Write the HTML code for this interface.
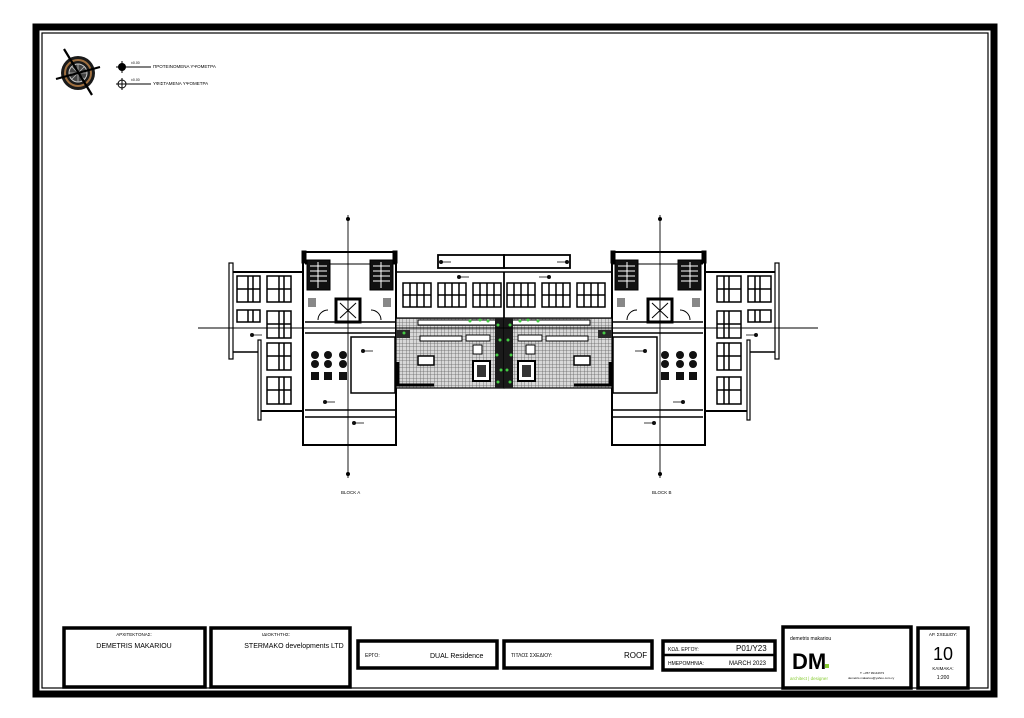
<!DOCTYPE html>
<html><head><meta charset="utf-8"><style>
html,body{margin:0;padding:0;background:#fff;}
body{width:1024px;height:718px;position:relative;overflow:hidden;font-family:"Liberation Sans","DejaVu Sans",sans-serif;}
svg{position:absolute;left:0;top:0;}
</style></head><body>
<svg width="1024" height="718" viewBox="0 0 1024 718" xmlns="http://www.w3.org/2000/svg" font-family="Liberation Sans, DejaVu Sans, sans-serif">
<defs>
<pattern id="grid" width="3.5" height="3.5" patternUnits="userSpaceOnUse">
<rect width="3.5" height="3.5" fill="#d8d8d8"/><path d="M0 0H3.5M0 0V3.5" stroke="#666" stroke-width="0.8"/>
</pattern>
</defs>
<!-- frame -->
<rect x="36" y="27" width="958" height="667" fill="none" stroke="#000" stroke-width="7"/>
<rect x="42" y="33" width="946" height="655" fill="none" stroke="#000" stroke-width="1.2"/>

<!-- compass -->
<g transform="translate(78,73)">
<circle r="17" fill="#1a1a1a"/><circle r="13" fill="none" stroke="#a07040" stroke-width="2"/>
<circle r="9" fill="#444" stroke="#ccc" stroke-width="1"/>
<path d="M0 -9V9M-9 0H9M-6 -6L6 6M6 -6L-6 6" stroke="#bbb" stroke-width="0.8"/>
<path d="M-14 -24L14 22M-22 6L22 -6" stroke="#000" stroke-width="2.2"/>
</g>
<g font-size="4.5" fill="#000">
<circle cx="122" cy="67" r="4" fill="#000"/><path d="M116 67H128M122 61V73" stroke="#000"/>
<line x1="126" y1="67" x2="151" y2="67" stroke="#000"/>
<text x="131" y="64" font-size="3.5">±0.00</text>
<text x="153" y="68">ΠΡΟΤΕΙΝΟΜΕΝΑ ΥΨΟΜΕΤΡΑ</text>
<circle cx="122" cy="84" r="4" fill="none" stroke="#000"/><path d="M116 84H128M122 78V90" stroke="#000"/>
<line x1="126" y1="84" x2="151" y2="84" stroke="#000"/>
<text x="131" y="81" font-size="3.5">±0.00</text>
<text x="153" y="85">ΥΦΙΣΤΑΜΕΝΑ ΥΨΟΜΕΤΡΑ</text>
</g>

<!-- plan: left half, mirrored -->
<g id="half" stroke="#000" fill="none">
<rect x="229" y="263" width="4" height="96" fill="#fff" stroke-width="1.2"/>
<line x1="233" y1="272" x2="303" y2="272" stroke-width="2"/>
<line x1="233" y1="352" x2="258" y2="352" stroke-width="1.5"/>
<rect x="258" y="340" width="3" height="80" stroke-width="1.2"/>
<line x1="261" y1="411" x2="303" y2="411" stroke-width="2"/>
<g stroke-width="1.5">
<rect x="237" y="276" width="23" height="26"/><path d="M248 276V302M253 276V302M237 289H260"/>
<rect x="237" y="310" width="23" height="12"/><path d="M248 310V322M253 310V322"/>
<rect x="267" y="276" width="24" height="26"/><path d="M279 276V302M284 276V302M267 289H291"/>
<rect x="267" y="311" width="24" height="27"/><path d="M279 311V338M284 311V338M267 324H291"/>
<rect x="267" y="343" width="24" height="27"/><path d="M279 343V370M284 343V370M267 356H291"/>
<rect x="267" y="377" width="24" height="27"/><path d="M279 377V404M284 377V404M267 390H291"/>
</g>
<rect x="303" y="252" width="93" height="193" stroke-width="2"/>
<rect x="302" y="251" width="4" height="12" fill="#000"/>
<rect x="393" y="251" width="4" height="12" fill="#000"/>
<line x1="305" y1="264" x2="395" y2="264"/>
<line x1="305" y1="322" x2="395" y2="322" stroke-width="1.5"/>
<line x1="305" y1="333" x2="395" y2="333" stroke-width="1.5"/>
<rect x="307" y="260" width="23" height="30" fill="#111"/>
<path d="M310 266H327M310 271H327M310 276H327M310 281H327M318 262V288" stroke="#fff" stroke-width="1"/>
<rect x="370" y="260" width="23" height="30" fill="#111"/>
<path d="M373 266H390M373 271H390M373 276H390M373 281H390M381 262V288" stroke="#fff" stroke-width="1"/>
<rect x="308" y="298" width="8" height="9" fill="#888" stroke="none"/>
<rect x="383" y="298" width="8" height="9" fill="#888" stroke="none"/>
<path d="M318 320A10 10 0 0 1 328 310M381 320A10 10 0 0 0 371 310"/>
<rect x="336" y="299" width="24" height="23" stroke-width="3"/>
<path d="M340 303L356 318M356 303L340 318"/>
<rect x="351" y="337" width="44" height="56" stroke-width="1.5"/>
<line x1="305" y1="410" x2="395" y2="410" stroke-width="1.5"/>
<line x1="305" y1="417" x2="395" y2="417" stroke-width="1.5"/>
<g fill="#111" stroke="none">
<circle cx="315" cy="355" r="4"/><circle cx="328" cy="355" r="4"/><circle cx="343" cy="355" r="4"/>
<circle cx="315" cy="364" r="4"/><circle cx="328" cy="364" r="4"/><circle cx="343" cy="364" r="4"/>
<rect x="311" y="372" width="8" height="8"/><rect x="324" y="372" width="8" height="8"/><rect x="339" y="372" width="8" height="8"/>
<circle cx="325" cy="402" r="2"/><circle cx="354" cy="423" r="2"/><circle cx="363" cy="351" r="2"/>
<circle cx="252" cy="335" r="2"/><circle cx="441" cy="262" r="2"/><circle cx="459" cy="277" r="2"/><circle cx="449" cy="355" r="2"/>
</g>
<path d="M325 402H335M354 423H364M363 351H373M252 335H262M441 262H451M459 277H469M449 355H459" stroke-width="0.7"/>
<rect x="438" y="255" width="66" height="13" stroke-width="1.8"/>
<line x1="396" y1="272" x2="504" y2="272" stroke-width="1.5"/>
<line x1="504" y1="272" x2="504" y2="318" stroke-width="1.5"/>
<g stroke-width="1.5">
<rect x="403" y="283" width="28" height="24"/><path d="M410 283V307M417 283V307M424 283V307M403 295H431"/>
<rect x="438" y="283" width="28" height="24"/><path d="M445 283V307M452 283V307M459 283V307M438 295H466"/>
<rect x="473" y="283" width="28" height="24"/><path d="M480 283V307M487 283V307M494 283V307M473 295H501"/>
</g>
<rect x="396" y="318" width="108" height="70" fill="url(#grid)" stroke-width="1.2"/>
<rect x="418" y="320" width="86" height="5" fill="#fff" stroke-width="1"/>
<rect x="420" y="336" width="42" height="5" fill="#fff"/>
<rect x="418" y="356" width="16" height="9" fill="#fff" stroke-width="1.5"/>
<rect x="473" y="361" width="17" height="20" fill="#fff" stroke-width="2"/>
<rect x="477" y="365" width="9" height="12" fill="#333" stroke="none"/>
<rect x="466" y="335" width="24" height="6" fill="#fff"/>
<rect x="473" y="345" width="9" height="9" fill="#fff"/>
<path d="M398 362V385H434" stroke-width="3"/>
<rect x="396" y="330" width="14" height="8" fill="#2a2a2a" stroke="none"/>
<rect x="495" y="318" width="9" height="70" fill="#1a1a1a" stroke="none"/>
<g fill="#4c4" stroke="none">
<circle cx="498" cy="325" r="1.5"/><circle cx="500" cy="340" r="1.5"/><circle cx="497" cy="355" r="1.5"/><circle cx="501" cy="370" r="1.5"/><circle cx="498" cy="382" r="1.5"/>
<circle cx="470" cy="321" r="1.5"/><circle cx="480" cy="320" r="1.5"/><circle cx="488" cy="321" r="1.5"/><circle cx="404" cy="333" r="1.5"/>
</g>
<line x1="348" y1="215" x2="348" y2="478" stroke-width="0.9"/>
<circle cx="348" cy="219" r="1.5" fill="#000"/><circle cx="348" cy="474" r="1.5" fill="#000"/>
</g>
<use href="#half" transform="translate(1008,0) scale(-1,1)"/>
<line x1="198" y1="328" x2="818" y2="328" stroke="#000" stroke-width="0.9"/>
<text x="341" y="494" font-size="4.5">BLOCK A</text>
<text x="652" y="494" font-size="4.5">BLOCK B</text>

<g fill="none" stroke="#000" stroke-width="3.5">
<rect x="64" y="628" width="141" height="59"/>
<rect x="211" y="628" width="139" height="59"/>
<rect x="358" y="641" width="139" height="27"/>
<rect x="504" y="641" width="148" height="27"/>
<rect x="663" y="641" width="112" height="29"/>
<rect x="783" y="627" width="128" height="61"/>
<rect x="918" y="628" width="50" height="60"/>
</g>
<line x1="663" y1="655" x2="775" y2="655" stroke="#000" stroke-width="2.5"/>
<g fill="#000" font-size="5">
<text x="134" y="636" text-anchor="middle" font-size="4.5">ΑΡΧΙΤΕΚΤΟΝΑΣ:</text>
<text x="134" y="648" text-anchor="middle" font-size="7">DEMETRIS MAKARIOU</text>
<text x="276" y="636" text-anchor="middle" font-size="4.5">ΙΔΙΟΚΤΗΤΗΣ:</text>
<text x="294" y="648" text-anchor="middle" font-size="7">STERMAKO developments LTD</text>
<text x="365" y="657">ΕΡΓΟ:</text>
<text x="430" y="658" font-size="7">DUAL Residence</text>
<text x="511" y="657">ΤΙΤΛΟΣ ΣΧΕΔΙΟΥ:</text>
<text x="624" y="658" font-size="8">ROOF</text>
<text x="668" y="651">ΚΩΔ. ΕΡΓΟΥ:</text>
<text x="736" y="651" font-size="8">P01/Y23</text>
<text x="668" y="665">ΗΜΕΡΟΜΗΝΙΑ:</text>
<text x="729" y="665" font-size="6">MARCH 2023</text>
<text x="790" y="640" font-size="5">demetris makariou</text>
<text x="792" y="669" font-size="22" font-weight="bold">DM</text>
<rect x="825" y="664" width="4" height="4" fill="#8c3"/>
<text x="790" y="680" font-size="4.5" fill="#8c3">architect | designer</text>
<text x="860" y="674" font-size="3">T: +357 99144673</text>
<text x="848" y="679" font-size="3">demetris.makariou@yahoo.com.cy</text>
<text x="943" y="636" text-anchor="middle" font-size="4.5">ΑΡ. ΣΧΕΔΙΟΥ:</text>
<text x="943" y="660" text-anchor="middle" font-size="18">10</text>
<text x="943" y="670" text-anchor="middle" font-size="4.5">ΚΛΙΜΑΚΑ:</text>
<text x="943" y="679" text-anchor="middle" font-size="5">1:200</text>
</g>
</svg>
</body></html>
